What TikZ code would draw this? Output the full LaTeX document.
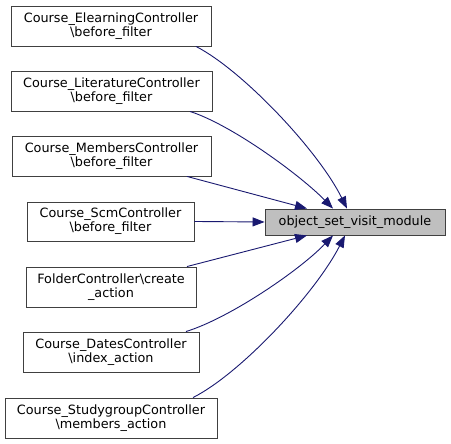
\documentclass[tikz,border=0pt]{standalone}
\usepackage{fontspec}
\setmainfont{DejaVu Sans}
\usetikzlibrary{arrows.meta}
\definecolor{edgec}{HTML}{191970}
\definecolor{boxc}{HTML}{404040}
\definecolor{hilite}{HTML}{BFBFBF}
\begin{document}
\begin{tikzpicture}[x=1pt,y=1pt,
  fn/.style={draw=boxc,line width=0.9pt,fill=white,inner sep=0pt,align=center,
    minimum height=40pt,font=\fontsize{12.8}{14.2}\selectfont},
  tgt/.style={fn,fill=hilite,minimum height=26pt},
  call/.style={edgec,line width=0.9pt,-{Triangle[length=12pt,width=9pt]}}]
\useasboundingbox (0,0) rectangle (451,444);
\node[fn,minimum width=200pt] (b1) at (111,418) {Course\_ElearningController\\\textbackslash before\_filter};
\node[fn,minimum width=201pt] (b2) at (111.5,353) {Course\_LiteratureController\\\textbackslash before\_filter};
\node[fn,minimum width=199pt] (b3) at (111.5,288) {Course\_MembersController\\\textbackslash before\_filter};
\node[fn,minimum width=167pt,minimum height=39pt] (b4) at (110.5,222.5) {Course\_ScmController\\\textbackslash before\_filter};
\node[fn,minimum width=170pt] (b5) at (111,157) {FolderController\textbackslash create\\\_action};
\node[fn,minimum width=176pt] (b6) at (111,92) {Course\_DatesController\\\textbackslash index\_action};
\node[fn,minimum width=212pt] (b7) at (111,26) {Course\_StudygroupController\\\textbackslash members\_action};
\node[tgt,minimum width=180pt] (t) at (355,222) {object\_set\_visit\_module};

\draw[call] ([xshift=85pt]b1.south) .. controls (242,374) and (318,294) .. ([xshift=-8pt]t.north);
\draw[call] ([xshift=78.5pt]b2.south) .. controls (232,319) and (300,269) .. ([xshift=-22pt]t.north);
\draw[call] ([xshift=75.5pt]b3.south) -- ([xshift=-48pt]t.north);
\draw[call] (b4.east) -- (t.west);
\draw[call] ([xshift=76pt]b5.north) -- ([xshift=-48pt]t.south);
\draw[call] ([xshift=75pt]b6.north) .. controls (230,126) and (300,174) .. ([xshift=-22pt]t.south);
\draw[call] ([xshift=82pt]b7.north) .. controls (240,70) and (315,150) .. ([xshift=-10pt]t.south);
\end{tikzpicture}
\end{document}
